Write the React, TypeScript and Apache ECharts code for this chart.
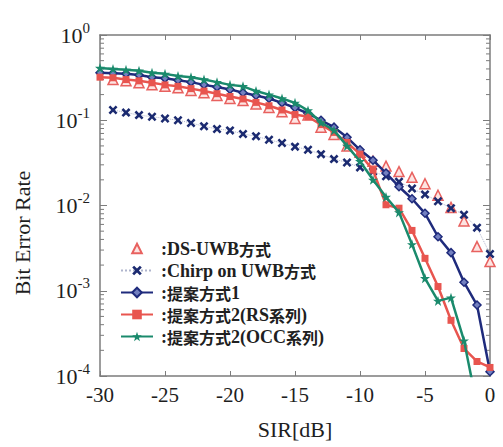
import React, { useEffect, useRef } from 'react';
import * as echarts from 'echarts';

// SIR values [dB]
const sirDb = [-30, -29, -28, -27, -26, -25, -24, -23, -22, -21, -20, -19, -18, -17, -16, -15, -14, -13, -12, -11, -10, -9, -8, -7, -6, -5, -4, -3, -2, -1, 0];
const markerSir = [-29, -28, -27, -26, -25, -24, -23, -22, -21, -20, -19, -18, -17, -16, -15, -14, -13, -12, -11, -10, -9, -8, -7, -6, -5, -4, -3, -2, -1, 0];
const occSir = [-30, -29, -28, -27, -26, -25, -24, -23, -22, -21, -20, -19, -18, -17, -16, -15, -14, -13, -12, -11, -10, -9, -8, -7, -6, -5, -4, -3, -2, -1];

// Series values (Bit Error Rate)
const dsUwb = [0.30, 0.29, 0.275, 0.26, 0.25, 0.24, 0.224, 0.21, 0.195, 0.18, 0.17, 0.155, 0.141, 0.126, 0.105, 0.115, 0.083, 0.068, 0.050, 0.042, 0.033, 0.029, 0.025, 0.0214, 0.018, 0.0132, 0.0095, 0.0066, 0.0033, 0.0022];
const chirpUwb = [0.132, 0.123, 0.115, 0.11, 0.105, 0.10, 0.093, 0.085, 0.079, 0.076, 0.069, 0.065, 0.059, 0.054, 0.049, 0.045, 0.040, 0.035, 0.032, 0.028, 0.025, 0.022, 0.019, 0.0158, 0.0135, 0.0112, 0.0093, 0.0078, 0.0055, 0.0027];
const proposal1 = [0.36, 0.355, 0.35, 0.34, 0.32, 0.31, 0.295, 0.28, 0.26, 0.245, 0.23, 0.21, 0.195, 0.18, 0.16, 0.14, 0.12, 0.10, 0.083, 0.063, 0.045, 0.034, 0.024, 0.0166, 0.012, 0.0081, 0.0043, 0.0028, 0.00126, 0.00068, 0.000112];
const proposal2Rs = [0.32, 0.315, 0.30, 0.29, 0.275, 0.26, 0.25, 0.235, 0.22, 0.205, 0.19, 0.178, 0.162, 0.148, 0.132, 0.117, 0.11, 0.089, 0.072, 0.055, 0.040, 0.026, 0.0102, 0.0093, 0.0051, 0.0024, 0.00112, 0.00045, 0.00021, 0.000148, 0.000126];
const proposal2Occ = [0.41, 0.40, 0.39, 0.38, 0.36, 0.35, 0.33, 0.32, 0.30, 0.28, 0.26, 0.25, 0.22, 0.20, 0.18, 0.16, 0.13, 0.094, 0.076, 0.050, 0.033, 0.020, 0.0126, 0.0083, 0.0035, 0.0014, 0.00076, 0.00083, 0.00026, 0.000045];

const seriesNames = [':DS-UWB方式', ':Chirp on UWB方式', ':提案方式1', ':提案方式2(RS系列)', ':提案方式2(OCC系列)'];

// log-axis minor tick values
const minorTickValues = [
  2e-4, 3e-4, 4e-4, 5e-4, 6e-4, 7e-4, 8e-4, 9e-4,
  2e-3, 3e-3, 4e-3, 5e-3, 6e-3, 7e-3, 8e-3, 9e-3,
  2e-2, 3e-2, 4e-2, 5e-2, 6e-2, 7e-2, 8e-2, 9e-2,
  2e-1, 3e-1, 4e-1, 5e-1, 6e-1, 7e-1, 8e-1, 9e-1,
];

const SERIF = '"Liberation Serif", "Times New Roman", Times, "DejaVu Serif", serif';
const CJK = '"Noto Sans CJK JP", sans-serif';
const AXIS_COLOR = '#7c7c7c';

const crossPath = 'path://M0,2 L2,0 L5,3 L8,0 L10,2 L7,5 L10,8 L8,10 L5,7 L2,10 L0,8 L3,5 Z';
const starPath = 'path://M5,0 L6.2,3.6 L10,3.6 L7,5.9 L8.1,9.5 L5,7.3 L1.9,9.5 L3,5.9 L0,3.6 L3.8,3.6 Z';

function pairs(xs: number[], ys: number[]) {
  return xs.map((x, i) => [x, ys[i]]);
}

function legendRich(name: string) {
  const parts = name.split(/([\u3000-\u9fff]+)/).filter((p) => p.length > 0);
  return parts
    .map((p) => (/[\u3000-\u9fff]/.test(p) ? `{c|${p}}` : `{l|${p}}`))
    .join('');
}

export default function App() {
  const ref = useRef<HTMLDivElement>(null);

  useEffect(() => {
    if (!ref.current) return;
    const chart = echarts.init(ref.current, undefined, { renderer: 'svg' });

    const option: any = {
      animation: false,
      backgroundColor: '#ffffff',
      textStyle: { fontFamily: SERIF },
      grid: { left: 100, right: 13, top: 35, bottom: 71 },
      xAxis: [
        {
          type: 'value',
          min: -30,
          max: 0,
          interval: 5,
          position: 'bottom',
          name: 'SIR[dB]',
          nameLocation: 'middle',
          nameGap: 42,
          nameTextStyle: { fontFamily: SERIF, fontSize: 22, color: '#1e1e1e' },
          axisLine: { show: true, onZero: false, lineStyle: { color: AXIS_COLOR, width: 1.5 } },
          axisTick: { show: true, inside: true, length: 5, lineStyle: { color: AXIS_COLOR, width: 1 } },
          axisLabel: { fontFamily: SERIF, fontSize: 21, color: '#1e1e1e', margin: 8 },
          splitLine: { show: false },
        },
        {
          type: 'value',
          min: -30,
          max: 0,
          interval: 5,
          position: 'top',
          axisLine: { show: true, onZero: false, lineStyle: { color: AXIS_COLOR, width: 1.5 } },
          axisTick: { show: true, inside: true, length: 5, lineStyle: { color: AXIS_COLOR, width: 1 } },
          axisLabel: { show: false },
          splitLine: { show: false },
        },
      ],
      yAxis: [
        {
          type: 'log',
          logBase: 10,
          min: 1e-4,
          max: 1,
          position: 'left',
          axisLine: { show: true, onZero: false, lineStyle: { color: AXIS_COLOR, width: 1.5 } },
          axisTick: { show: true, inside: true, length: 7, lineStyle: { color: AXIS_COLOR, width: 1 } },
          axisLabel: {
            margin: 10,
            fontFamily: SERIF,
            formatter: (v: number) => {
              const e = Math.round(Math.log10(v));
              return `{b|10}{s|${e}}`;
            },
            rich: {
              b: { fontFamily: SERIF, fontSize: 22, color: '#1e1e1e', lineHeight: 22, verticalAlign: 'bottom' },
              s: { fontFamily: SERIF, fontSize: 15, color: '#1e1e1e', lineHeight: 15, verticalAlign: 'bottom', padding: [0, 0, 11, 0] },
            },
          },
          splitLine: { show: false },
        },
        {
          type: 'log',
          logBase: 10,
          min: 1e-4,
          max: 1,
          position: 'right',
          axisLine: { show: true, onZero: false, lineStyle: { color: AXIS_COLOR, width: 1.5 } },
          axisTick: { show: true, inside: true, length: 7, lineStyle: { color: AXIS_COLOR, width: 1 } },
          axisLabel: { show: false },
          splitLine: { show: false },
        },
      ],
      legend: {
        show: true,
        orient: 'vertical',
        left: 115,
        top: 234,
        itemWidth: 32,
        itemHeight: 12,
        itemGap: 3,
        data: seriesNames,
        formatter: (name: string) => legendRich(name),
        textStyle: {
          padding: [0, 0, 0, 3],
          lineHeight: 19,
          rich: {
            l: { fontFamily: SERIF, fontSize: 18, fontWeight: 'bold', color: '#202020', lineHeight: 19 },
            c: { fontFamily: CJK, fontSize: 16, fontWeight: 'bold', color: '#202020', lineHeight: 19 },
          },
        },
      },
      graphic: [
        {
          type: 'text',
          x: 22,
          y: 233,
          rotation: Math.PI / 2,
          style: {
            text: 'Bit Error Rate',
            fontFamily: SERIF,
            fontSize: 22,
            fill: '#1e1e1e',
            textAlign: 'center',
            textVerticalAlign: 'middle',
          },
        },
      ],
      series: [
        {
          type: 'custom',
          name: 'minorTicks',
          xAxisIndex: 0,
          yAxisIndex: 0,
          silent: true,
          clip: false,
          z: 1,
          data: minorTickValues.map((v) => [-30, v]),
          renderItem: (_params: any, api: any) => {
            const v = api.value(1);
            const l = api.coord([-30, v]);
            const r = api.coord([0, v]);
            return {
              type: 'group',
              children: [
                { type: 'line', shape: { x1: l[0], y1: l[1], x2: l[0] + 4, y2: l[1] }, style: { stroke: AXIS_COLOR, lineWidth: 1 } },
                { type: 'line', shape: { x1: r[0] - 4, y1: r[1], x2: r[0], y2: r[1] }, style: { stroke: AXIS_COLOR, lineWidth: 1 } },
              ],
            };
          },
        },
        {
          type: 'line',
          name: seriesNames[0],
          data: pairs(markerSir, dsUwb),
          symbol: 'triangle',
          symbolSize: 10,
          lineStyle: { opacity: 0, width: 0 },
          itemStyle: { color: '#fde4e2', borderColor: '#e8615f', borderWidth: 1.5 },
          z: 2,
        },
        {
          type: 'line',
          name: seriesNames[1],
          data: pairs(markerSir, chirpUwb),
          symbol: crossPath,
          symbolSize: 9,
          lineStyle: { color: '#1b2a70', width: 1, type: 'dotted', opacity: 0.35 },
          itemStyle: { color: '#1b2a70' },
          z: 3,
        },
        {
          type: 'line',
          name: seriesNames[2],
          data: pairs(sirDb, proposal1),
          symbol: 'diamond',
          symbolSize: 8,
          lineStyle: { color: '#1f2b7c', width: 2.5 },
          itemStyle: { color: '#7380c0', borderColor: '#1f2b7c', borderWidth: 1.5 },
          z: 4,
        },
        {
          type: 'line',
          name: seriesNames[3],
          data: pairs(sirDb, proposal2Rs),
          symbol: 'rect',
          symbolSize: 7,
          lineStyle: { color: '#e8554f', width: 2.5 },
          itemStyle: { color: '#e8554f' },
          z: 5,
        },
        {
          type: 'line',
          name: seriesNames[4],
          data: pairs(occSir, proposal2Occ),
          symbol: starPath,
          symbolSize: 10,
          lineStyle: { color: '#1a8a6c', width: 2.5 },
          itemStyle: { color: '#1a8a6c' },
          z: 6,
        },
      ],
    };

    chart.setOption(option);
    return () => chart.dispose();
  }, []);

  return <div ref={ref} style={{ width: 503, height: 447, position: 'absolute', left: 0, top: 0 }} />;
}
